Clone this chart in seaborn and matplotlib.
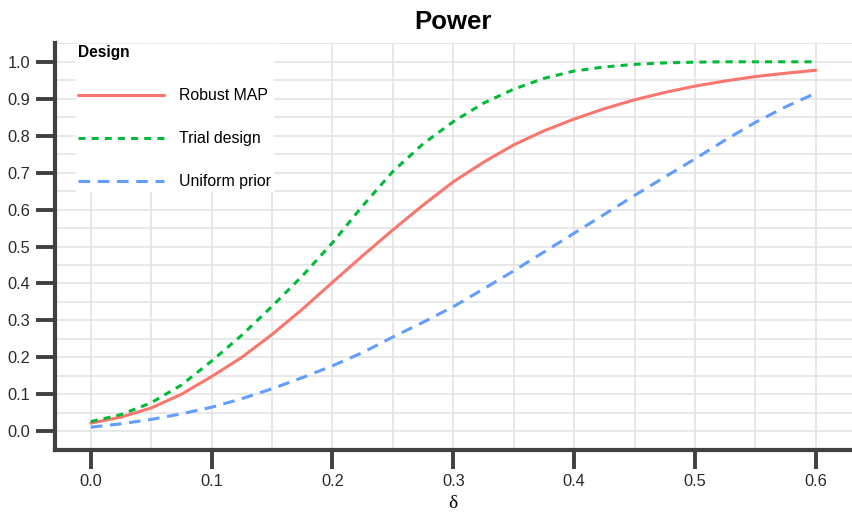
import numpy as np
import pandas as pd
import matplotlib
matplotlib.use("Agg")
import matplotlib.pyplot as plt
from matplotlib.ticker import MultipleLocator, FormatStrFormatter
import seaborn as sns

# ---- data ----
delta = [0.0, 0.025, 0.05, 0.075, 0.1, 0.125, 0.15, 0.175, 0.2, 0.225, 0.25,
         0.275, 0.3, 0.325, 0.35, 0.375, 0.4, 0.425, 0.45, 0.475, 0.5,
         0.525, 0.55, 0.575, 0.6]
robust_map = [0.022, 0.038, 0.063, 0.100, 0.148, 0.200, 0.262, 0.330, 0.403,
              0.475, 0.545, 0.612, 0.675, 0.728, 0.775, 0.813, 0.845, 0.873,
              0.897, 0.917, 0.934, 0.948, 0.960, 0.969, 0.977]
trial_design = [0.026, 0.045, 0.077, 0.125, 0.190, 0.260, 0.338, 0.420, 0.510,
                0.610, 0.703, 0.778, 0.838, 0.888, 0.926, 0.955, 0.975, 0.986,
                0.993, 0.997, 0.999, 1.000, 1.000, 1.000, 1.000]
uniform_prior = [0.011, 0.020, 0.032, 0.047, 0.065, 0.088, 0.115, 0.145, 0.177,
                 0.213, 0.255, 0.295, 0.337, 0.385, 0.434, 0.485, 0.536, 0.587,
                 0.638, 0.688, 0.737, 0.788, 0.836, 0.878, 0.915]
designs = ["Robust MAP", "Trial design", "Uniform prior"]
colors = ["#F8766D", "#00BA38", "#619CFF"]
x_ticks = [0.0, 0.1, 0.2, 0.3, 0.4, 0.5, 0.6]
y_ticks = [0.0, 0.1, 0.2, 0.3, 0.4, 0.5, 0.6, 0.7, 0.8, 0.9, 1.0]

df = pd.DataFrame({
    "delta": delta * 3,
    "power": robust_map + trial_design + uniform_prior,
    "Design": [designs[0]] * len(delta) + [designs[1]] * len(delta) + [designs[2]] * len(delta),
})

sns.set_style("white")
plt.rcParams["font.family"] = ["Liberation Sans", "DejaVu Sans"]
plt.rcParams["text.color"] = "black"

fig = plt.figure(figsize=(8.52, 5.15), dpi=100)
ax = fig.add_axes([0.064, 0.1268, 0.936, 0.7891])

palette = dict(zip(designs, colors))
dashes = {"Robust MAP": "", "Trial design": (2.3, 2.0), "Uniform prior": (3.8, 2.5)}

sns.lineplot(data=df, x="delta", y="power", hue="Design", style="Design",
             hue_order=designs, style_order=designs,
             palette=palette, dashes=dashes, linewidth=2.2, ax=ax, zorder=3)

ax.set_xlim(-0.03, 0.63)
ax.set_ylim(-0.05, 1.05)
ax.set_xticks(x_ticks)
ax.set_yticks(y_ticks)
ax.xaxis.set_minor_locator(MultipleLocator(0.05))
ax.yaxis.set_minor_locator(MultipleLocator(0.05))
ax.xaxis.set_major_formatter(FormatStrFormatter("%.1f"))
ax.yaxis.set_major_formatter(FormatStrFormatter("%.1f"))

ax.grid(True, which="both", color="#e4e4e4", linewidth=1.2, zorder=0)
ax.set_axisbelow(True)

spine_col = "#404040"
for s in ["top", "right"]:
    ax.spines[s].set_visible(False)
for s in ["left", "bottom"]:
    ax.spines[s].set_color(spine_col)
    ax.spines[s].set_linewidth(3.0)
    ax.spines[s].set_zorder(4)

ax.tick_params(which="major", direction="out", length=13.5, width=2.8,
               bottom=True, left=True,
               color=spine_col, labelsize=11.8, labelcolor="#2a2a2a", pad=4.0)
ax.tick_params(which="minor", length=0)

ax.set_xlabel("δ", family=["Liberation Serif", "DejaVu Serif"], fontsize=14,
              labelpad=4.5, color="black")
ax.set_ylabel("")
ax.set_title("Power", fontsize=18.5, fontweight="bold", pad=10, color="black")

handles, labels = ax.get_legend_handles_labels()
if ax.get_legend() is not None:
    ax.get_legend().remove()
leg = ax.legend(handles, labels, title="Design", loc="upper left",
                bbox_to_anchor=(76 / 852, 1 - 43.5 / 515),
                bbox_transform=fig.transFigure, borderaxespad=0,
                borderpad=0.12, fontsize=11.4, handlelength=5.44,
                handletextpad=0.95, labelspacing=1.77, frameon=True,
                fancybox=False, alignment="left",
                title_fontproperties={"weight": "bold", "size": 11.2})
leg.get_title().set_color("black")
for t in leg.get_texts():
    t.set_color("black")
frame = leg.get_frame()
frame.set_facecolor("white")
frame.set_edgecolor("white")
frame.set_alpha(1.0)
leg.set_zorder(5)
for line in leg.get_lines():
    line.set_linewidth(2.2)

fig.savefig("out.png", dpi=100)
